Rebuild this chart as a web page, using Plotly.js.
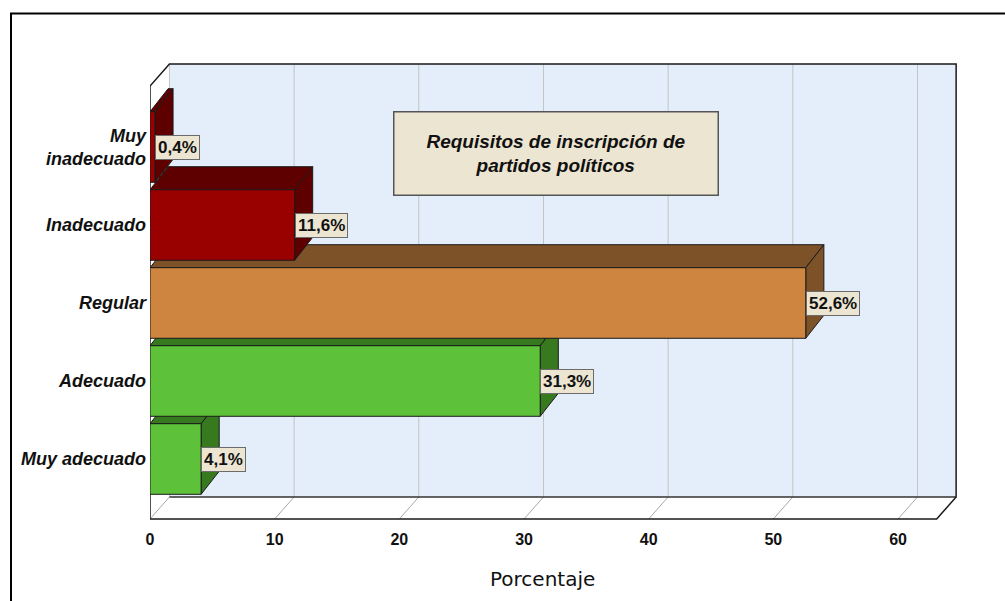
<!DOCTYPE html>
<html>
<head>
<meta charset="utf-8">
<script src="https://cdn.plot.ly/plotly-3.0.1.min.js"></script>
<style>html,body{margin:0;padding:0;background:#fff;}#chart{width:1005px;height:601px;}</style>
</head>
<body>
<div id="chart"></div>
<script>
// ---- data ----
const categories = ['Muy adecuado', 'Adecuado', 'Regular', 'Inadecuado', 'Muy inadecuado'];
const tickLabels = ['Muy adecuado', 'Adecuado', 'Regular', 'Inadecuado', 'Muy<br>inadecuado'];
const values = [4.1, 31.3, 52.6, 11.6, 0.4];
const valueLabels = ['4,1%', '31,3%', '52,6%', '11,6%', '0,4%'];
const xTicks = [0, 10, 20, 30, 40, 50, 60];
const chartTitle = 'Requisitos de inscripción de<br>partidos políticos';
const xTitle = 'Porcentaje';

// ---- style ----
const frontColors = ['#5dc13a', '#5dc13a', '#cd853f', '#990000', '#990000'];
const sideColors = ['#37791f', '#37791f', '#7d5229', '#5e0000', '#5e0000'];
const BAR_W = 0.905;      // bar thickness in category units
const BAR_DX = 1.45, BAR_DY = 0.295;   // bar depth offset
const BOX_DX = 1.56, BOX_DY = 0.282;   // box depth offset
const X_MAX = 64.97, X_FRONT_END = 63.1;
const Y_MIN = -0.7949, Y_MAX = 5.1154;
const Y_FLOOR = -0.769, Y_TOP = 5.064;
const WALL = '#e3eefa';
const BEIGE = '#ece5d2';
const SANS = 'Liberation Sans, Arial, sans-serif';

const traces = [];
function poly(xs, ys, fill) {
  traces.push({
    type: 'scatter', mode: 'lines', x: xs.concat([xs[0]]), y: ys.concat([ys[0]]),
    fill: 'toself', fillcolor: fill, line: {color: '#1a1a1a', width: 1},
    hoverinfo: 'skip', showlegend: false
  });
}
categories.forEach((c, i) => {
  const v = values[i];
  const lo = i - BAR_W / 2, hi = i + BAR_W / 2;
  // top face
  poly([0, v, v + BAR_DX, BAR_DX], [hi, hi, hi + BAR_DY, hi + BAR_DY], sideColors[i]);
  // side face
  poly([v, v + BAR_DX, v + BAR_DX, v], [lo, lo + BAR_DY, hi + BAR_DY, hi], sideColors[i]);
  // front face
  poly([0, v, v, 0], [lo, lo, hi, hi], frontColors[i]);
});

const shapes = [];
const yFB = Y_FLOOR + BOX_DY;
function path(d, fill, lineColor, w) {
  shapes.push({type: 'path', xref: 'x', yref: 'y', path: d, fillcolor: fill || 'rgba(0,0,0,0)',
    line: {color: lineColor || 'rgba(0,0,0,0)', width: lineColor ? (w || 1) : 0}, layer: 'below'});
}
// back wall
path(`M ${BOX_DX} ${yFB} L ${X_FRONT_END + BOX_DX} ${yFB} L ${X_FRONT_END + BOX_DX} ${Y_TOP} L ${BOX_DX} ${Y_TOP} Z`, WALL);
// floor
path(`M 0 ${Y_FLOOR} L ${X_FRONT_END} ${Y_FLOOR} L ${X_FRONT_END + BOX_DX} ${yFB} L ${BOX_DX} ${yFB} Z`, '#ffffff');
// left wall
path(`M 0 ${Y_FLOOR} L ${BOX_DX} ${yFB} L ${BOX_DX} ${Y_TOP} L 0 ${Y_TOP - BOX_DY} Z`, '#ffffff');
// grid lines
xTicks.forEach(t => {
  path(`M ${t + BOX_DX} ${yFB} L ${t + BOX_DX} ${Y_TOP}`, null, '#c4c4c4', 1);
  path(`M ${t} ${Y_FLOOR} L ${t + BOX_DX} ${yFB}`, null, '#a8a8a8', 1);
});
// outlines
path(`M ${BOX_DX} ${yFB} L ${X_FRONT_END + BOX_DX} ${yFB}`, null, '#333333', 1.5);
path(`M 0 ${Y_FLOOR} L ${X_FRONT_END} ${Y_FLOOR} L ${X_FRONT_END + BOX_DX} ${yFB} L ${X_FRONT_END + BOX_DX} ${Y_TOP} L ${BOX_DX} ${Y_TOP} L 0 ${Y_TOP - BOX_DY} L 0 ${Y_FLOOR}`, null, '#1a1a1a', 1.5);
// outer frame
shapes.push({type: 'rect', xref: 'paper', yref: 'paper', x0: -0.1716, x1: 1.07, y0: -0.2, y1: 1.101,
  line: {color: '#000', width: 2}, fillcolor: 'rgba(0,0,0,0)', layer: 'below'});

const annotations = categories.map((c, i) => ({
  x: values[i], y: i, xref: 'x', yref: 'y', xanchor: 'left', yanchor: 'middle',
  text: valueLabels[i], showarrow: false, bgcolor: BEIGE, bordercolor: '#6b6b6b',
  borderwidth: 1, borderpad: 2,
  font: {family: SANS, size: 17, weight: 'bold', color: '#111'}
}));
annotations.push({
  x: 0.501, y: 0.797, xref: 'paper', yref: 'paper', xanchor: 'center', yanchor: 'middle',
  text: chartTitle, showarrow: false, bgcolor: BEIGE, bordercolor: '#555', borderwidth: 1.5,
  width: 323, height: 82, borderpad: 0,
  font: {family: SANS, size: 19, weight: 'bold', style: 'italic', color: '#111'}
});
annotations.push({
  x: 0.484, y: -0.126, xref: 'paper', yref: 'paper', xanchor: 'center', yanchor: 'middle',
  text: xTitle, showarrow: false,
  font: {family: 'DejaVu Sans, sans-serif', size: 20, color: '#111'}
});

const layout = {
  width: 1005, height: 601,
  margin: {l: 150, r: 45, t: 60, b: 80},
  paper_bgcolor: '#ffffff', plot_bgcolor: 'rgba(0,0,0,0)',
  showlegend: false,
  xaxis: {range: [0, X_MAX], tickvals: xTicks, ticktext: xTicks.map(String), showgrid: false, zeroline: false,
    showline: false, ticks: '', fixedrange: true, ticklabelstandoff: 7,
    tickfont: {family: SANS, size: 16, weight: 'bold', color: '#111'}},
  yaxis: {range: [Y_MIN, Y_MAX], tickvals: categories.map((c, i) => i), ticktext: tickLabels,
    showgrid: false, zeroline: false, showline: false, ticks: '', fixedrange: true, ticklabelstandoff: 3,
    tickfont: {family: SANS, size: 18, weight: 'bold', style: 'italic', color: '#111'}},
  shapes: shapes,
  annotations: annotations
};

Plotly.newPlot('chart', traces, layout, {displayModeBar: false, staticPlot: true});
</script>
</body>
</html>
